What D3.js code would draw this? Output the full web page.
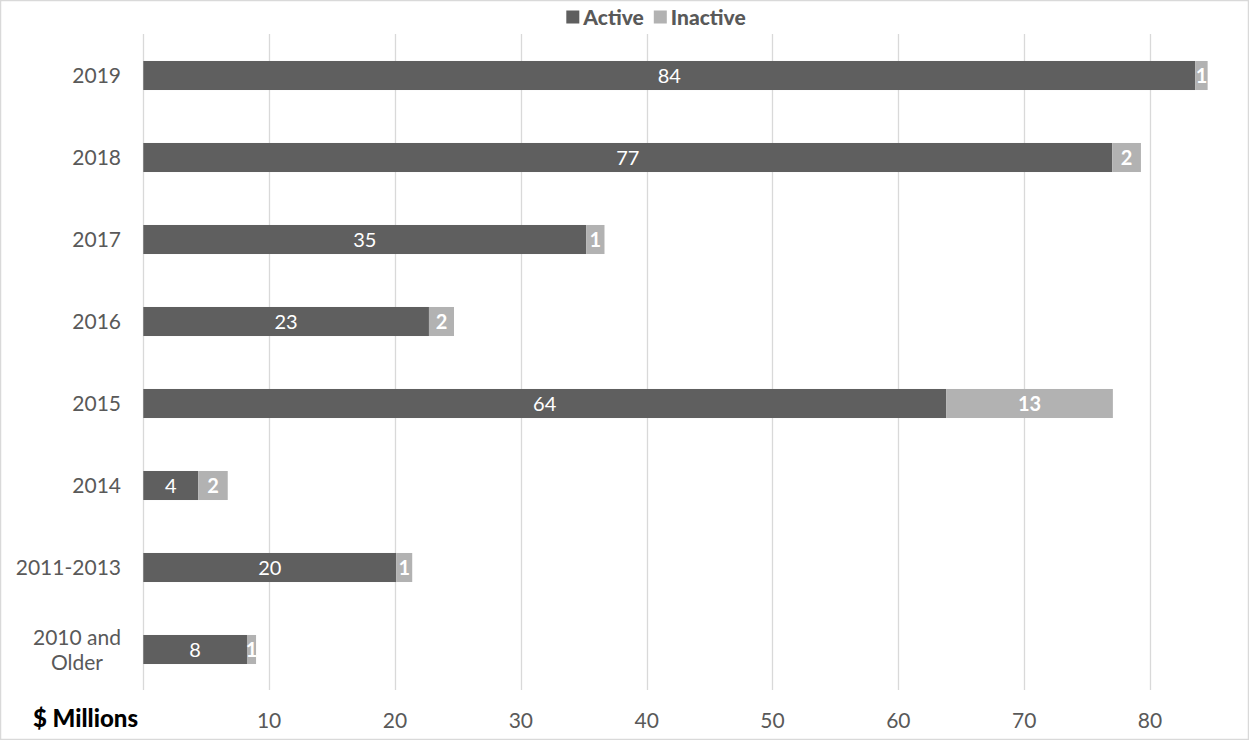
<!DOCTYPE html>
<html>
<head>
<meta charset="utf-8">
<script src="https://cdn.jsdelivr.net/npm/d3@7"></script>
<style>
  html, body { margin: 0; padding: 0; background: #fff; }
  svg { display: block; }
  text { font-family: Lato, "Open Sans", sans-serif; }
</style>
</head>
<body>
<svg id="chart" width="1249" height="740"></svg>
<script>
// ---- data ----
const categories = ["2019", "2018", "2017", "2016", "2015", "2014", "2011-2013", "2010 and\nOlder"];
const activeValues = [83.6, 77.0, 35.2, 22.7, 63.8, 4.37, 20.1, 8.24];
const inactiveValues = [0.98, 2.28, 1.45, 1.99, 13.25, 2.34, 1.27, 0.72];
const seriesNames = ["Active", "Inactive"];
const tickValues = [0, 10, 20, 30, 40, 50, 60, 70, 80];
const axisTitle = "$ Millions";

// ---- layout ----
const W = 1249, H = 740;
const colors = { Active: "#5f5f5f", Inactive: "#b2b2b2" };
const textColor = "#595959";
const svg = d3.select("#chart");

svg.append("rect").attr("x", 0.5).attr("y", 0.5).attr("width", W - 1).attr("height", H - 1)
  .attr("fill", "#fff").attr("stroke", "#d9d9d9").attr("stroke-width", 1.5);

const x = d3.scaleLinear().domain([0, 80]).range([143.3, 1150]);
const y = d3.scaleBand().domain(categories).range([34.5, 690.5]).paddingInner(0.646).paddingOuter(0.323);

const rows = categories.map((c, i) => ({ cat: c, Active: activeValues[i], Inactive: inactiveValues[i] }));
const stacked = d3.stack().keys(seriesNames)(rows);

// gridlines
svg.append("g").selectAll("line").data(tickValues).join("line")
  .attr("x1", d => Math.round(x(d)) + 0.5).attr("x2", d => Math.round(x(d)) + 0.5)
  .attr("y1", 34).attr("y2", 690)
  .attr("stroke", "#d9d9d9").attr("stroke-width", 1.3);

// bars
const layers = svg.append("g").selectAll("g").data(stacked).join("g")
  .attr("fill", d => colors[d.key]);
layers.selectAll("rect").data(d => d).join("rect")
  .attr("x", d => x(d[0])).attr("width", d => x(d[1]) - x(d[0]))
  .attr("y", d => y(d.data.cat)).attr("height", y.bandwidth());

// bar labels
const fmt = d3.format(".0f");
stacked.forEach(layer => {
  svg.append("g").selectAll("text").data(layer).join("text")
    .attr("x", d => (x(d[0]) + x(d[1])) / 2)
    .attr("y", d => y(d.data.cat) + y.bandwidth() / 2)
    .attr("dy", "0.36em")
    .attr("text-anchor", "middle")
    .attr("fill", "#fff")
    .attr("font-size", 20)
    .attr("font-weight", layer.key === "Inactive" ? "bold" : "normal")
    .text(d => fmt(d[1] - d[0]));
});

// category labels
const catG = svg.append("g");
categories.forEach(c => {
  const lines = c.split("\n");
  const t = catG.append("text")
    .attr("fill", textColor).attr("font-size", 21)
    .attr("text-anchor", "middle");
  const cy = y(c) + y.bandwidth() / 2;
  const lh = 25;
  lines.forEach((ln, i) => {
    t.append("tspan").attr("y", cy + (i - (lines.length - 1) / 2) * lh).attr("dy", "0.36em").text(ln);
  });
  let maxW = 0;
  t.selectAll("tspan").each(function() { maxW = Math.max(maxW, this.getComputedTextLength()); });
  t.selectAll("tspan").attr("x", 121 - maxW / 2);
});

// x tick labels (skip 0)
svg.append("g").selectAll("text").data(tickValues.filter(d => d !== 0)).join("text")
  .attr("x", d => x(d)).attr("y", 720).attr("dy", "0.36em")
  .attr("text-anchor", "middle").attr("fill", textColor).attr("font-size", 21)
  .text(d => d);

// axis title
svg.append("text").attr("x", 33).attr("y", 718).attr("dy", "0.36em")
  .attr("fill", "#000").attr("font-size", 24).attr("font-weight", 900)
  .text(axisTitle);

// legend
const leg = svg.append("g");
let cx = 0;
seriesNames.forEach((s, i) => {
  const g = leg.append("g").attr("transform", `translate(${cx},0)`);
  g.append("rect").attr("x", 0).attr("y", -6.5).attr("width", 13).attr("height", 13).attr("fill", colors[s]);
  const t = g.append("text").attr("x", 17).attr("y", 0).attr("dy", "0.36em")
    .attr("fill", textColor).attr("font-size", 21).attr("font-weight", 900).text(s);
  cx += 17 + t.node().getComputedTextLength() + 10;
});
const legW = cx - 10;
leg.attr("transform", `translate(${656 - legW / 2},17)`);
</script>
</body>
</html>
